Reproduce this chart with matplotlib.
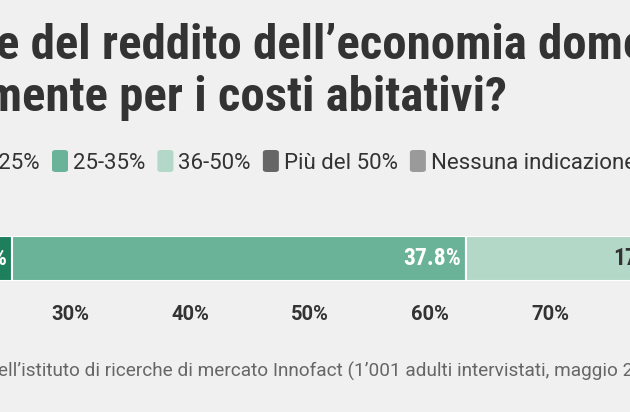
import matplotlib
matplotlib.use("Agg")
import matplotlib.pyplot as plt
from matplotlib import font_manager
from matplotlib.patches import FancyBboxPatch

# ---- data ----
categories = ["Meno del 25%", "25-35%", "36-50%", "Più del 50%", "Nessuna indicazione"]
values = [25.2, 37.8, 17.5, 11.9, 7.6]
colors = ["#1d7f5c", "#6bb398", "#b4d8c8", "#666666", "#9a9a9a"]
label_colors = ["white", "white", "#333333", "white", "white"]
ticks = [0, 10, 20, 30, 40, 50, 60, 70, 80, 90, 100]

title_lines = [("Quale part", "e del reddito dell’economia domestica viene spesa"),
               ("mensil", "mente per i costi abitativi?")]
source = ("Fonte: sondaggio d",
          "ell’istituto di ricerche di mercato Innofact (1’001 adulti intervistati, maggio 2023)")

names = {f.name for f in font_manager.fontManager.ttflist}
COND = "Roboto Condensed" if "Roboto Condensed" in names else "Roboto"
BG = "#f0f0f0"
W, H = 630, 412

fig = plt.figure(figsize=(W / 100, H / 100), dpi=100, facecolor=BG)
renderer = fig.canvas.get_renderer()


def fx(px):
    return px / W


def fy(py):
    return 1 - py / H


def text_width(s, **kw):
    t = fig.text(0, 0, s, **kw)
    w = t.get_window_extent(renderer).width
    t.remove()
    return w


def cut_text(hidden, visible, x_px, y_px, **kw):
    # place the full string so that the visible part starts at x_px
    w = text_width(hidden, **kw) if hidden else 0
    fig.text(fx(x_px - w), fy(y_px), hidden + visible, va="baseline", ha="left", **kw)


# ---- title ----
tkw = dict(family=[COND, "DejaVu Sans"], fontweight="bold", fontsize=35.2, color="#333333")
cut_text(*title_lines[0], -4, 59, **tkw)
cut_text(*title_lines[1], -14, 111, **tkw)

# ---- legend ----
lkw = dict(family=["Roboto", "DejaVu Sans"], fontsize=16, color="#333333")
w0 = text_width(categories[0], **lkw)
xs = [40 - w0]          # first entry: its text ends at x=40
x = 52
for cat in categories[1:]:
    xs.append(x + 21)
    x = x + 21 + text_width(cat, **lkw) + 12
for cat, col, tx in zip(categories, colors, xs):
    sw = FancyBboxPatch((fx(tx - 21), fy(172)), fx(16), 22 / H,
                        boxstyle="round,pad=0,rounding_size=0.006",
                        transform=fig.transFigure, facecolor=col, edgecolor="none")
    fig.patches.append(sw)
    fig.text(fx(tx), fy(169), cat, va="baseline", ha="left", **lkw)

# ---- bar ----
# axis maps 0..100 % onto pixels -290..910 (chart cropped on both sides)
ax = fig.add_axes([fx(-290), fy(281), fx(1200), 45 / H])
ax.set_facecolor(BG)
left = 0
for val, col, lc in zip(values, colors, label_colors):
    ax.barh(0, val, left=left, height=1, color=col, edgecolor="white", linewidth=1.5)
    ax.text(left + val - 0.45, 0, f"{val:.1f}%", ha="right", va="center",
            color=lc, family=[COND, "DejaVu Sans"], fontweight="bold", fontsize=17)
    left += val
ax.set_xlim(0, 100)
ax.set_ylim(-0.5, 0.5)
ax.set_xticks(ticks)
ax.set_xticklabels([f"{t}%" for t in ticks])
ax.tick_params(axis="x", length=0, pad=17, labelsize=14.5, labelcolor="#333333")
for lab in ax.get_xticklabels():
    lab.set_family(["Roboto", "DejaVu Sans"])
    lab.set_fontweight("bold")
ax.set_yticks([])
for s in ax.spines.values():
    s.set_visible(False)

# ---- source ----
skw = dict(family=["Roboto", "DejaVu Sans"], fontsize=13.7, color="#666666")
cut_text(*source, -2, 377, **skw)

fig.savefig("out.png", dpi=100, facecolor=BG)
